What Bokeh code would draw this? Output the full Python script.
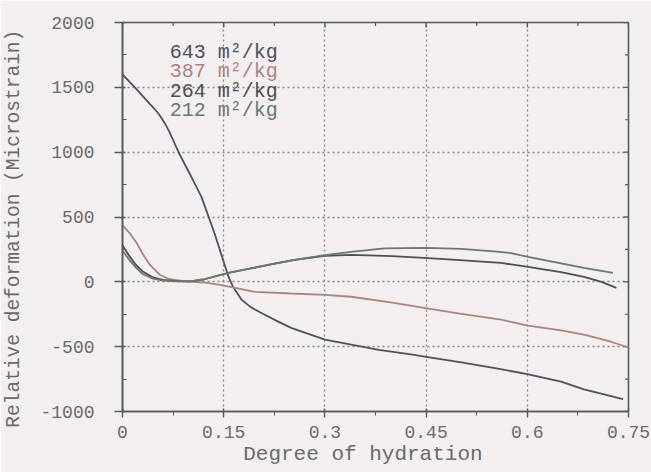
import math
from bokeh.plotting import figure
from bokeh.models import Range1d, FixedTicker
from bokeh.embed import file_html
from bokeh.resources import INLINE
from bokeh.core.properties import value

# ---------------- data ----------------
series_names = ["643 m²/kg", "387 m²/kg", "264 m²/kg", "212 m²/kg"]
series_colors = ["#4d525e", "#a8857f", "#4f4f4f", "#6c786c"]

x_643 = [0, 0.02, 0.04, 0.047, 0.053, 0.058, 0.064, 0.07, 0.084, 0.10, 0.117, 0.136,
         0.149, 0.157, 0.164, 0.176, 0.19, 0.206, 0.23, 0.25, 0.30, 0.38, 0.43, 0.45,
         0.50, 0.55, 0.60, 0.65, 0.684, 0.742]
y_643 = [1600, 1490, 1375, 1335, 1300, 1262, 1212, 1150, 990, 830, 655, 380,
         170, 40, -40, -135, -195, -240, -305, -355, -445, -525, -562, -578,
         -620, -663, -712, -770, -830, -905]

x_387 = [0, 0.01, 0.021, 0.03, 0.04, 0.055, 0.07, 0.09, 0.12, 0.147, 0.196, 0.25,
         0.30, 0.339, 0.40, 0.447, 0.50, 0.561, 0.601, 0.65, 0.684, 0.724, 0.751]
y_387 = [435, 380, 300, 215, 135, 55, 20, 5, -5, -25, -77, -90,
         -100, -115, -160, -200, -245, -292, -338, -375, -408, -462, -508]

x_264 = [0, 0.01, 0.02, 0.03, 0.045, 0.06, 0.08, 0.10, 0.12, 0.157, 0.216, 0.255,
         0.30, 0.339, 0.40, 0.447, 0.50, 0.561, 0.601, 0.65, 0.684, 0.71, 0.732]
y_264 = [280, 200, 130, 80, 35, 15, 5, 3, 18, 69, 131, 169,
         200, 208, 198, 185, 168, 146, 115, 75, 38, 0, -46]

x_212 = [0, 0.01, 0.02, 0.03, 0.045, 0.06, 0.08, 0.10, 0.12, 0.157, 0.216, 0.255,
         0.30, 0.339, 0.388, 0.45, 0.502, 0.55, 0.576, 0.601, 0.65, 0.684, 0.727]
y_212 = [240, 170, 110, 60, 25, 10, 3, 3, 18, 69, 131, 169,
         205, 231, 258, 262, 254, 235, 222, 192, 142, 108, 69]

x_ticks = [0, 0.15, 0.3, 0.45, 0.6, 0.75]
x_tick_labels = ["0", "0.15", "0.3", "0.45", "0.6", "0.75"]
x_minor = [0.075, 0.225, 0.375, 0.525, 0.675]
y_ticks = [-1000, -500, 0, 500, 1000, 1500, 2000]
y_tick_labels = ["-1000", "-500", "0", "500", "1000", "1500", "2000"]
y_minor = [-750, -250, 250, 750, 1250, 1750]

x_title = "Degree of hydration"
y_title = "Relative deformation (Microstrain)"

xs = [x_643, x_387, x_264, x_212]
ys = [y_643, y_387, y_264, y_212]

# ---------------- style ----------------
BG = "#f3eef0"
AX = "#5a5a5a"
TXT = "#6a6a6a"
FONT = "Liberation Mono"
NBSP = "\u00a0"
X0, X1 = 0, 0.75
Y0, Y1 = -1000, 2000

p = figure(width=651, height=472, output_backend="svg", toolbar_location=None,
           x_range=Range1d(X0, X1), y_range=Range1d(Y0, Y1),
           min_border_left=121, min_border_right=23, min_border_top=22,
           min_border_bottom=61, background_fill_color=BG,
           border_fill_color=BG)
p.outline_line_color = AX
p.outline_line_width = 1.6

xt = FixedTicker(ticks=x_ticks, minor_ticks=x_minor)
yt = FixedTicker(ticks=y_ticks, minor_ticks=y_minor)

p.xaxis.ticker = xt
p.yaxis.ticker = yt
p.xaxis.major_label_overrides = {t: l for t, l in zip(x_ticks, x_tick_labels)}
p.yaxis.major_label_overrides = {t: l for t, l in zip(y_ticks, y_tick_labels)}

for ax in (p.xaxis[0], p.yaxis[0]):
    ax.axis_line_color = AX
    ax.axis_line_width = 1.6
    ax.major_tick_line_color = AX
    ax.minor_tick_line_color = AX
    ax.major_tick_line_width = 1.4
    ax.major_label_text_font = FONT
    ax.major_label_text_color = TXT
    ax.major_label_text_font_size = "18px"
    ax.axis_label_text_font = FONT
    ax.axis_label_text_font_style = "normal"
    ax.axis_label_text_color = TXT

p.xaxis.major_tick_in = 3
p.xaxis.major_tick_out = 6
p.xaxis.minor_tick_in = 0
p.xaxis.minor_tick_out = 4
p.xaxis.major_label_standoff = 8
# trailing no-break spaces move the centred title slightly left, as in the reference
p.xaxis.axis_label = x_title + NBSP * 2
p.xaxis.axis_label_text_font_size = "21px"
p.xaxis.axis_label_standoff = 2

p.yaxis.major_tick_in = 3
p.yaxis.major_tick_out = 8
p.yaxis.minor_tick_in = 4
p.yaxis.minor_tick_out = 0
p.yaxis.major_label_standoff = 20
# trailing no-break spaces move the centred title slightly down, as in the reference
p.yaxis.axis_label = y_title + NBSP * 2
p.yaxis.axis_label_text_font_size = "19.5px"
p.yaxis.axis_label_standoff = 12

p.xgrid.ticker = xt
p.ygrid.ticker = yt
for g in (p.xgrid[0], p.ygrid[0]):
    g.grid_line_color = "#7a7a7a"
    g.grid_line_dash = "2 3"
    g.grid_line_width = 1.3
    g.grid_line_alpha = 0.9

# tick marks on the right and top frame edges
p.scatter(x=[X1] * len(y_ticks), y=y_ticks, marker="dash", size=10,
          line_color=AX, line_width=1.4)
p.scatter(x=[X1] * len(y_minor), y=y_minor, marker="dash", size=7,
          line_color=AX, line_width=1.2)
p.scatter(x=x_ticks, y=[Y1] * len(x_ticks), marker="dash", size=10,
          angle=math.pi / 2, line_color=AX, line_width=1.4)
p.scatter(x=x_minor, y=[Y1] * len(x_minor), marker="dash", size=7,
          angle=math.pi / 2, line_color=AX, line_width=1.2)

for x, y, c in zip(xs, ys, series_colors):
    p.line(x, y, line_color=c, line_width=1.8)

# legend as plain coloured text
leg_x0 = 0.07
leg_y0 = 1770
leg_dy = 150
p.text(x=[leg_x0] * len(series_names),
       y=[leg_y0 - i * leg_dy for i in range(len(series_names))],
       text=series_names, text_color=series_colors,
       text_font=value(FONT), text_font_size="20px",
       text_baseline="middle", text_align="left")

open("out.html", "w").write(file_html(p, INLINE))
